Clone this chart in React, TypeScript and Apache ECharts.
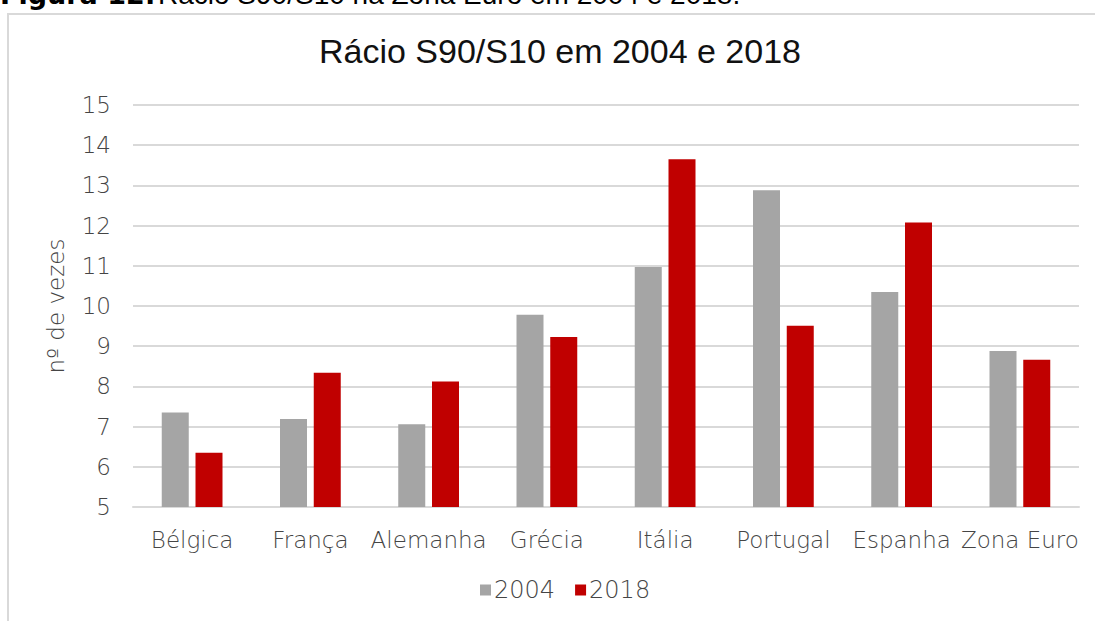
import React, { useEffect, useRef } from "react";
import * as echarts from "echarts";

const categories = ["Bélgica", "França", "Alemanha", "Grécia", "Itália", "Portugal", "Espanha", "Zona Euro"];
const values2004 = [7.35, 7.19, 7.06, 9.78, 10.97, 12.88, 10.35, 8.88];
const values2018 = [6.35, 8.34, 8.12, 9.23, 13.65, 9.51, 12.08, 8.66];
const seriesNames = ["2004", "2018"];
const yTicks = { min: 5, max: 15, interval: 1 };

const FONT = "'DejaVu Sans', 'Liberation Sans', sans-serif";
const TITLE_FONT = "'Liberation Sans', Arial, sans-serif";
const TEXT_COLOR = "#454545";

export default function App() {
  const ref = useRef<HTMLDivElement>(null);
  useEffect(() => {
    if (!ref.current) return;
    const chart = echarts.init(ref.current, undefined, { renderer: "svg" });
    chart.setOption({
      animation: false,
      backgroundColor: "#ffffff",
      title: {
        text: "Rácio S90/S10 em 2004 e 2018",
        left: 314,
        top: 29,
        textStyle: { fontFamily: TITLE_FONT, fontSize: 34, fontWeight: "normal", color: "#111111" },
      },
      graphic: [
        {
          type: "rect",
          shape: { x: 8, y: 14, width: 1200, height: 700 },
          style: { fill: "none", stroke: "#d9d9d9", lineWidth: 2 },
          silent: true,
          z: -1,
        },
        {
          type: "text",
          x: 0,
          y: 8,
          style: {
            text: "Figura 12:",
            font: "bold 27px 'DejaVu Sans', sans-serif",
            fill: "#000000",
            verticalAlign: "bottom",
          },
        },
        {
          type: "text",
          x: 158,
          y: 8,
          style: {
            text: "Rácio S90/S10 na Zona Euro em 2004 e 2018.",
            font: "28px 'Liberation Sans', Arial, sans-serif",
            fill: "#000000",
            verticalAlign: "bottom",
          },
        },
      ],
      legend: {
        data: seriesNames,
        bottom: 14,
        left: 475,
        itemWidth: 11,
        itemHeight: 11,
        itemGap: 20,
        icon: "rect",
        textStyle: { fontFamily: FONT, fontSize: 24, fontWeight: 300, color: TEXT_COLOR, padding: [0, 0, 0, -2] },
      },
      grid: { left: 133, right: 16, top: 105, bottom: 114, containLabel: false },
      xAxis: {
        type: "category",
        data: categories,
        axisLine: { lineStyle: { color: "#d9d9d9", width: 2 } },
        axisTick: { show: false },
        axisLabel: { fontFamily: FONT, fontSize: 23, fontWeight: 300, color: TEXT_COLOR, margin: 21, interval: 0 },
      },
      yAxis: {
        type: "value",
        min: yTicks.min,
        max: yTicks.max,
        interval: yTicks.interval,
        name: "nº de vezes",
        nameLocation: "middle",
        nameGap: 66,
        nameTextStyle: { fontFamily: FONT, fontSize: 23, fontWeight: 300, color: TEXT_COLOR },
        axisLine: { show: false },
        axisTick: { show: false },
        splitLine: { lineStyle: { color: "#d9d9d9", width: 2 } },
        axisLabel: { fontFamily: FONT, fontSize: 23, fontWeight: 300, color: TEXT_COLOR, margin: 22 },
      },
      series: [
        {
          name: seriesNames[0],
          type: "bar",
          data: values2004,
          barWidth: 27,
          barGap: "25%",
          itemStyle: { color: "#a5a5a5" },
        },
        {
          name: seriesNames[1],
          type: "bar",
          data: values2018,
          barWidth: 27,
          itemStyle: { color: "#c00000" },
        },
      ],
    });
    return () => chart.dispose();
  }, []);
  return (
    <div
      ref={ref}
      style={{ position: "fixed", left: 0, top: 0, width: 1095, height: 621 }}
    />
  );
}
